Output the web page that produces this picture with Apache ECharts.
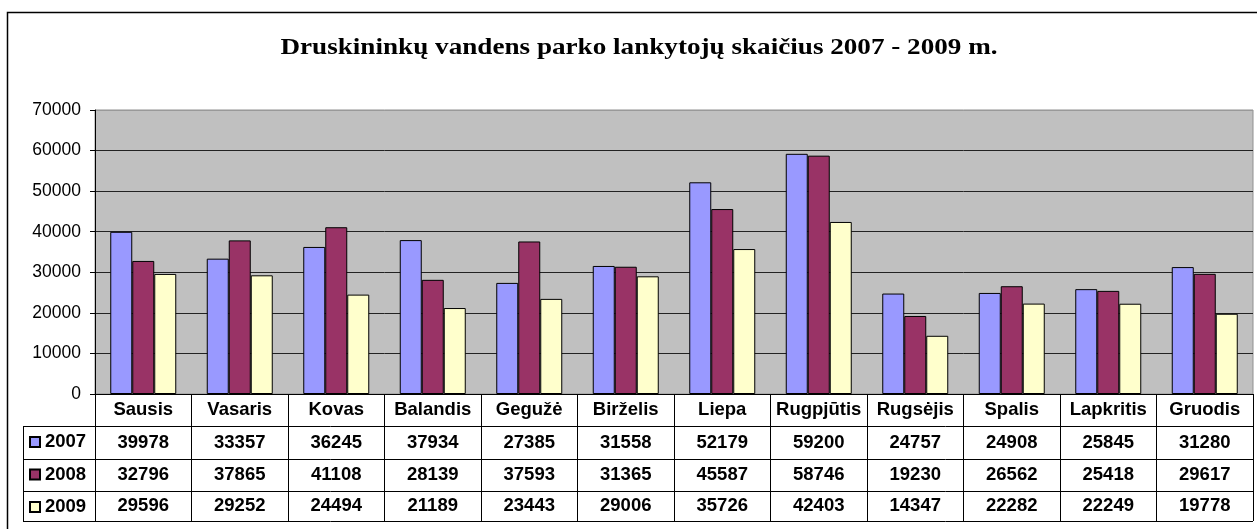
<!DOCTYPE html>
<html>
<head>
<meta charset="utf-8">
<script src="https://cdn.jsdelivr.net/npm/echarts@6/dist/echarts.min.js"></script>
<style>
html,body{margin:0;padding:0;background:#fff;}
#chart{width:1257px;height:529px;}
</style>
</head>
<body>
<div id="chart"></div>
<script>
const titleText = 'Druskininkų vandens parko lankytojų skaičius 2007 - 2009 m.';
const categories = ['Sausis','Vasaris','Kovas','Balandis','Gegužė','Birželis','Liepa','Rugpjūtis','Rugsėjis','Spalis','Lapkritis','Gruodis'];
const seriesNames = ['2007','2008','2009'];
const values2007 = [39978,33357,36245,37934,27385,31558,52179,59200,24757,24908,25845,31280];
const values2008 = [32796,37865,41108,28139,37593,31365,45587,58746,19230,26562,25418,29617];
const values2009 = [29596,29252,24494,21189,23443,29006,35726,42403,14347,22282,22249,19778];
const seriesColors = ['#9999FF','#993366','#FFFFCC'];

const FONT = '"Liberation Sans", Arial, sans-serif';
const GL = 95, GT = 110, GW = 1158, GB = 394;
const ROWS = [426, 459, 491, 521];
const TL = 23, TR = GL + GW;
const TFS = 18.5;

const chart = echarts.init(document.getElementById('chart'), null, {renderer:'canvas'});

const allValues = [values2007, values2008, values2009];

const graphics = [];
ROWS.forEach(y => {
  graphics.push({type:'line', shape:{x1:TL, y1:y+0.5, x2:TR, y2:y+0.5}, style:{stroke:'#000', lineWidth:1}, z:10});
});
graphics.push({type:'line', shape:{x1:TL+0.5, y1:ROWS[0], x2:TL+0.5, y2:ROWS[3]+1}, style:{stroke:'#000', lineWidth:1}, z:10});
graphics.push({type:'rect', shape:{x:7.5, y:12.5, width:1400, height:700}, style:{fill:null, stroke:'#000', lineWidth:1.5}, z:10});
graphics.push({
  type:'text', x:639, y:48, scaleX:1.18, scaleY:1, z:10,
  style:{text:titleText, x:0, y:0, textAlign:'center', textVerticalAlign:'middle',
    font:'bold 23px "Liberation Serif", "Times New Roman", serif', fill:'#000'}
});

const option = {
  animation:false,
  backgroundColor:'#fff',
  legend:{
    data:seriesNames,
    orient:'vertical',
    left:29, top:432, padding:0,
    itemWidth:10, itemHeight:10, itemGap:12.5,
    icon:'rect',
    selectedMode:false,
    textStyle:{fontFamily:FONT, fontWeight:'bold', fontSize:TFS, lineHeight:20, color:'#000'}
  },
  grid:{
    left:GL, top:GT, width:GW, height:GB-GT,
    show:true, backgroundColor:'#C0C0C0', borderColor:'#909090', borderWidth:1
  },
  xAxis:{
    type:'category',
    data:categories,
    boundaryGap:true,
    axisLine:{show:true, lineStyle:{color:'#000', width:1}},
    axisTick:{show:true, length:ROWS[3]-GB, lineStyle:{color:'#000'}},
    axisLabel:{
      margin:0, interval:0, color:'#000',
      formatter:function(v, i){
        return '{h|' + v + '}\n{a|' + values2007[i] + '}\n{b|' + values2008[i] + '}\n{c|' + values2009[i] + '}';
      },
      rich:{
        h:{fontFamily:FONT, fontWeight:'bold', fontSize:TFS, lineHeight:ROWS[0]-GB, color:'#000'},
        a:{fontFamily:FONT, fontWeight:'bold', fontSize:TFS, lineHeight:ROWS[1]-ROWS[0], color:'#000'},
        b:{fontFamily:FONT, fontWeight:'bold', fontSize:TFS, lineHeight:ROWS[2]-ROWS[1], color:'#000'},
        c:{fontFamily:FONT, fontWeight:'bold', fontSize:TFS, lineHeight:ROWS[3]-ROWS[2], color:'#000'}
      }
    }
  },
  yAxis:{
    type:'value',
    min:0, max:70000, interval:10000,
    axisLine:{show:true, lineStyle:{color:'#000'}},
    axisTick:{show:true, length:5, lineStyle:{color:'#000'}},
    axisLabel:{fontFamily:FONT, fontSize:17.5, color:'#000', margin:14, formatter:function(v){return String(v);}},
    splitLine:{show:true, lineStyle:{color:['#222','#222','#222','#222','#222','#222','#222','#999'], width:1}}
  },
  series: seriesNames.map((name, k) => ({
    name:name,
    type:'bar',
    data:allValues[k],
    barWidth:22,
    barGap:'0%',
    itemStyle:{color:seriesColors[k], borderColor:'#000', borderWidth:1}
  })),
  graphic: graphics
};
chart.setOption(option);
</script>
</body>
</html>
